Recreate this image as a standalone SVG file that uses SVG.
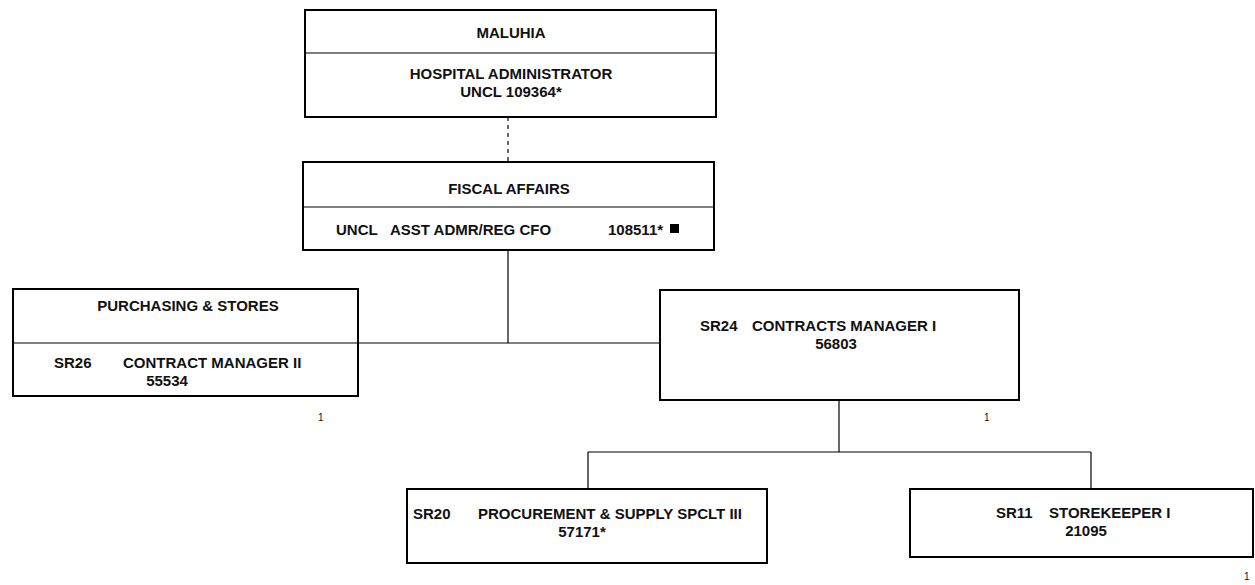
<svg xmlns="http://www.w3.org/2000/svg" width="1255" height="585" viewBox="0 0 1255 585">
<style>
.box{fill:#fff;stroke:#000;stroke-width:2}
.div{stroke:#000;stroke-width:1.2}
.ln{stroke:#000;stroke-width:1.2;fill:none}
.dash{stroke:#000;stroke-width:1.2;stroke-dasharray:4,4;fill:none}
text{font-family:"Liberation Sans",Arial,sans-serif;font-size:15px;font-weight:bold;fill:#111}
.c{text-anchor:middle}
.n{font-size:10px;font-weight:normal}
</style>
<rect width="1255" height="585" fill="#fff"/>
<g id="connectors">
<path class="dash" d="M508 117V162"/>
<path class="ln" d="M508 250V343"/>
<path class="ln" d="M358 343H660"/>
<path class="ln" d="M839 400V452"/>
<path class="ln" d="M588 452H1091"/>
<path class="ln" d="M588 452V489"/>
<path class="ln" d="M1091 452V489"/>
</g>
<g id="maluhia">
<rect class="box" x="305" y="10" width="411" height="107"/>
<line class="div" x1="305" y1="53" x2="716" y2="53"/>
<text class="c" x="511" y="38">MALUHIA</text>
<text class="c" x="511" y="79">HOSPITAL ADMINISTRATOR</text>
<text class="c" x="511" y="97">UNCL 109364*</text>
</g>
<g id="fiscal">
<rect class="box" x="303" y="162" width="411" height="88"/>
<line class="div" x1="303" y1="207" x2="714" y2="207"/>
<text class="c" x="509" y="194">FISCAL AFFAIRS</text>
<text x="336" y="235">UNCL</text>
<text x="390" y="235">ASST ADMR/REG CFO</text>
<text x="608" y="235">108511*</text>
<rect x="670" y="224" width="9" height="9" fill="#000"/>
</g>
<g id="purchasing">
<rect class="box" x="13" y="289" width="345" height="107"/>
<line class="div" x1="13" y1="343" x2="358" y2="343"/>
<text class="c" x="188" y="311">PURCHASING &amp; STORES</text>
<text x="54" y="368">SR26</text>
<text x="123" y="368">CONTRACT MANAGER II</text>
<text class="c" x="167" y="386">55534</text>
<text class="n" x="318" y="421">1</text>
</g>
<g id="contracts">
<rect class="box" x="660" y="290" width="359" height="110"/>
<text x="700" y="331">SR24</text>
<text x="752" y="331">CONTRACTS MANAGER I</text>
<text class="c" x="836" y="349">56803</text>
<text class="n" x="984" y="421">1</text>
</g>
<g id="procurement">
<rect class="box" x="407" y="489" width="360" height="74"/>
<text x="413" y="519">SR20</text>
<text x="478" y="519">PROCUREMENT &amp; SUPPLY SPCLT III</text>
<text class="c" x="582" y="537">57171*</text>
</g>
<g id="storekeeper">
<rect class="box" x="910" y="489" width="343" height="68"/>
<text x="996" y="518">SR11</text>
<text x="1049" y="518">STOREKEEPER I</text>
<text class="c" x="1086" y="536">21095</text>
</g>
<text class="n" x="1244" y="580">1</text>
</svg>
